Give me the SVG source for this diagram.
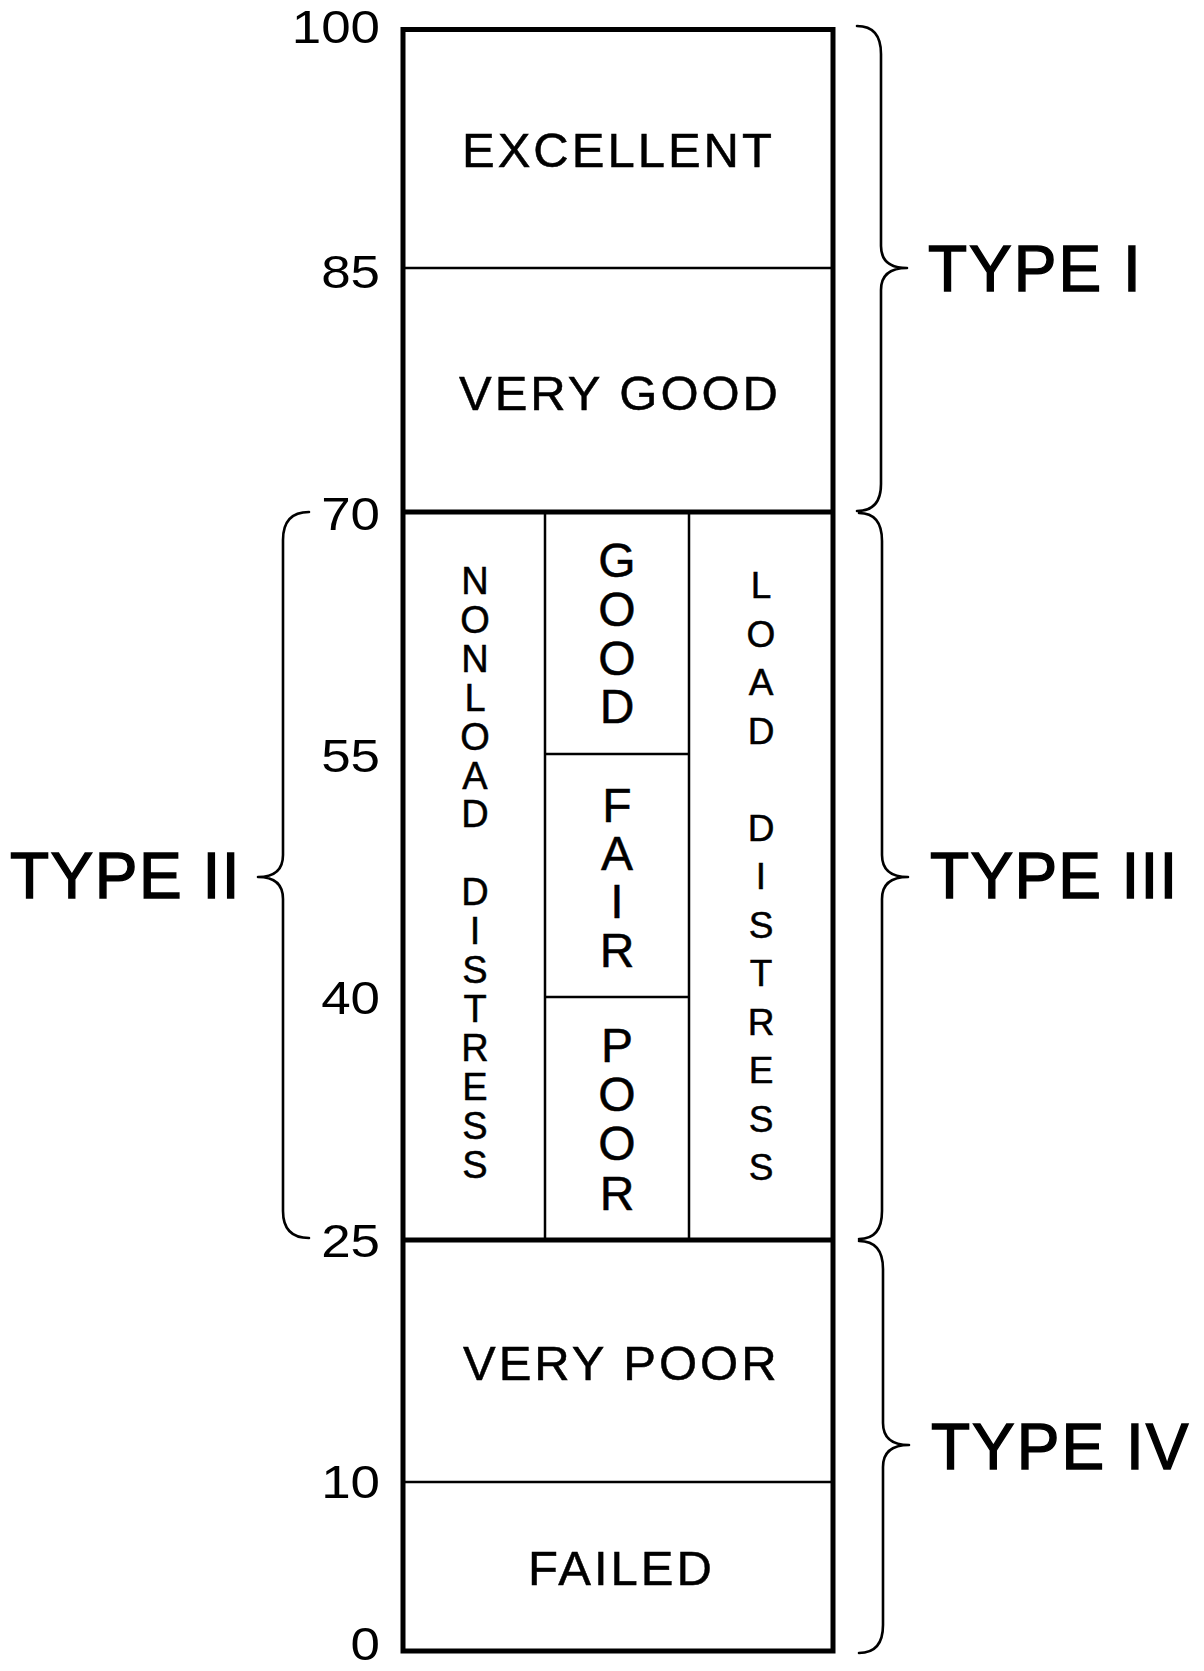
<svg xmlns="http://www.w3.org/2000/svg" width="1204" height="1671" viewBox="0 0 1204 1671">
<style>
.bg{fill:#fff}
.thick{stroke:#000;stroke-width:5;fill:none}
.thin{stroke:#000;stroke-width:2.5;fill:none}
.brace{stroke:#000;stroke-width:2.6;fill:none;stroke-linecap:round;stroke-linejoin:round}
.num{font-family:"Liberation Sans",Arial,sans-serif;font-size:46px;fill:#000;text-anchor:end}
.lbl{font-family:"Liberation Sans",Arial,sans-serif;font-size:49px;fill:#000;stroke:#000;stroke-width:0.5;letter-spacing:3px}
.type{font-family:"Liberation Sans",Arial,sans-serif;font-size:64px;fill:#000;stroke:#000;stroke-width:1.4}
.v1{font-family:"Liberation Sans",Arial,sans-serif;font-size:38px;fill:#000;stroke:#000;stroke-width:0.5;text-anchor:middle}
.v2{font-family:"Liberation Sans",Arial,sans-serif;font-size:48px;fill:#000;stroke:#000;stroke-width:0.5;text-anchor:middle}
.v3{font-family:"Liberation Sans",Arial,sans-serif;font-size:37px;fill:#000;stroke:#000;stroke-width:0.5;text-anchor:middle}
</style>
<rect class="bg" x="0" y="0" width="1204" height="1671"/>

<g id="scale">
<text class="num" transform="translate(380,43) scale(1.15,1)">100</text>
<text class="num" transform="translate(380,288) scale(1.15,1)">85</text>
<text class="num" transform="translate(380,530) scale(1.15,1)">70</text>
<text class="num" transform="translate(380,772) scale(1.15,1)">55</text>
<text class="num" transform="translate(380,1014) scale(1.15,1)">40</text>
<text class="num" transform="translate(380,1257) scale(1.15,1)">25</text>
<text class="num" transform="translate(380,1498) scale(1.15,1)">10</text>
<text class="num" transform="translate(380,1660) scale(1.15,1)">0</text>
</g>

<g id="box">
<rect class="thick" x="403" y="29.5" width="430" height="1621.5"/>
<line class="thin" x1="403" y1="268" x2="833" y2="268"/>
<line class="thick" x1="403" y1="512" x2="833" y2="512"/>
<line class="thick" x1="403" y1="1240" x2="833" y2="1240"/>
<line class="thin" x1="403" y1="1482" x2="833" y2="1482"/>
<line class="thin" x1="545" y1="512" x2="545" y2="1240"/>
<line class="thin" x1="689" y1="512" x2="689" y2="1240"/>
<line class="thin" x1="545" y1="754" x2="689" y2="754"/>
<line class="thin" x1="545" y1="997" x2="689" y2="997"/>
</g>

<g id="excellent"><text class="lbl" x="462" y="167">EXCELLENT</text></g>
<g id="very-good"><text class="lbl" x="459" y="410" letter-spacing="4">VERY GOOD</text></g>
<g id="very-poor"><text class="lbl" x="463" y="1380" letter-spacing="4">VERY POOR</text></g>
<g id="failed"><text class="lbl" x="528" y="1585" letter-spacing="3.5">FAILED</text></g>

<g id="nonload-distress"><text class="v1" x="475 475 475 475 475 475 475 475 475 475 475 475 475 475 475 475" y="594 632.9 671.8 710.7 749.6 788.5 827.4 866.3 905.2 944.1 983 1021.9 1060.8 1099.7 1138.6 1177.5">NONLOAD DISTRESS</text></g>
<g id="good"><text class="v2" x="617 617 617 617" y="577 626 675 723">GOOD</text></g>
<g id="fair"><text class="v2" x="617 617 617 617" y="822 870 918 967">FAIR</text></g>
<g id="poor"><text class="v2" x="617 617 617 617" y="1062 1111 1160 1210">POOR</text></g>
<g id="load-distress"><text class="v3" x="761 761 761 761 761 761 761 761 761 761 761 761 761" y="598 646.5 695 743.5 792 840.5 889 937.5 986 1034.5 1083 1131.5 1180">LOAD DISTRESS</text></g>

<g id="connectors">
<path class="brace" d="M857,26 Q881,26 881,54 L881,246 Q881,268 907,268 Q881,268 881,290 L881,484 Q881,511 857,511"/>
<path class="brace" d="M859,513 Q882,513 882,541 L882,855 Q882,877 908,877 Q882,877 882,899 L882,1211 Q882,1239 859,1239"/>
<path class="brace" d="M859,1241 Q883,1241 883,1269 L883,1423 Q883,1445 909,1445 Q883,1445 883,1467 L883,1625 Q883,1653 859,1653"/>
<path class="brace" d="M309,512 Q283,512 283,540 L283,855 Q283,877 258,877 Q283,877 283,899 L283,1211 Q283,1238 309,1238"/>
</g>

<g id="type-1"><text class="type" x="928" y="291" letter-spacing="2">TYPE I</text></g>
<g id="type-3"><text class="type" x="930" y="898" letter-spacing="1.3">TYPE III</text></g>
<g id="type-4"><text class="type" x="931" y="1469" letter-spacing="2">TYPE IV</text></g>
<g id="type-2"><text class="type" x="10" y="898" letter-spacing="1.5">TYPE II</text></g>
</svg>
